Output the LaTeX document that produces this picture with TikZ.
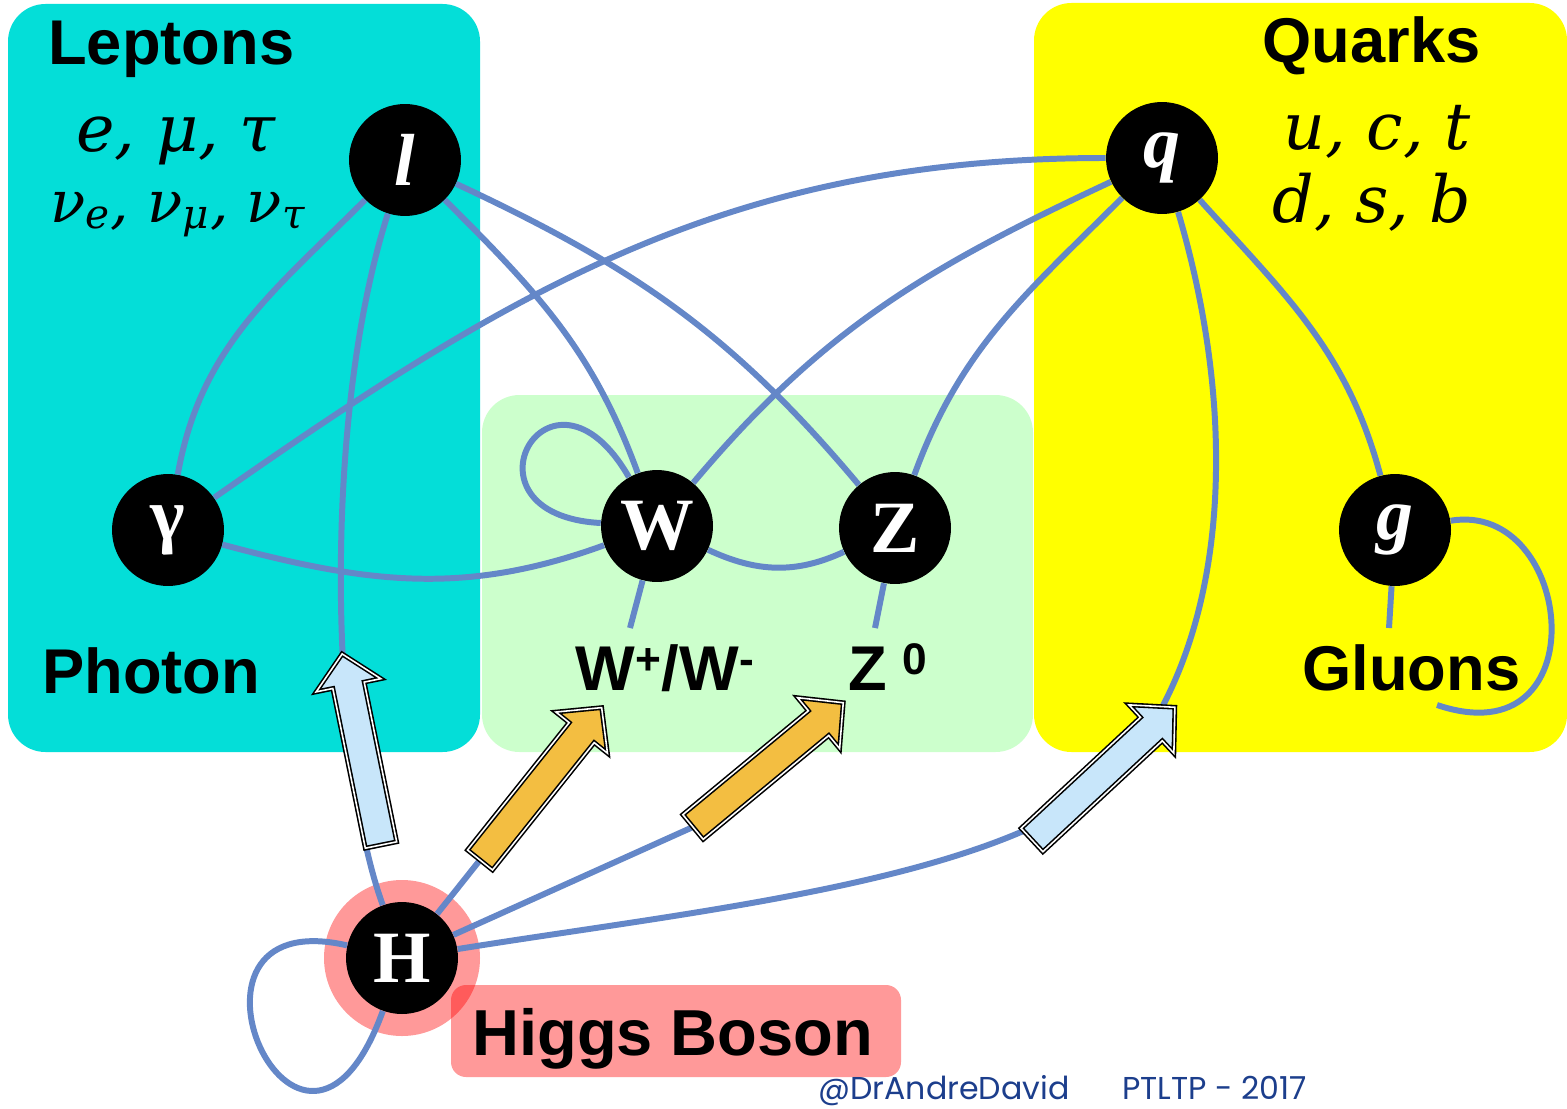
\documentclass[tikz,border=0pt]{standalone}
\usepackage{fontspec}
\setmainfont{Liberation Sans}
\newfontfamily\symfont{DejaVu Serif}
\newfontfamily\glyphfont{Liberation Serif}
\newfontfamily\footfont{Poppins}
\definecolor{leptonC}{RGB}{4,222,216}
\definecolor{bosonC}{RGB}{204,255,204}
\definecolor{quarkC}{RGB}{255,255,0}
\definecolor{linkC}{RGB}{100,135,200}
\definecolor{higgsC}{RGB}{255,153,153}
\definecolor{arrowB}{RGB}{200,230,250}
\definecolor{arrowO}{RGB}{243,190,65}
\definecolor{footC}{RGB}{28,62,140}
\tikzset{
	dotP/.style={
		circle, fill=black, text=white, minimum size=\dotD, inner sep=0pt,
		font={\glyphfont\fontsize{42}{42}\selectfont\bfseries}
	},
	lineP/.style={draw=linkC, line width=3.4pt},
	famBox/.style={rounded corners=0.75cm},
	labA/.style={anchor=base west, inner sep=0pt, font={\fontsize{36}{40}\selectfont\bfseries}},
	symA/.style={anchor=base, inner sep=0pt, font={\symfont\itshape\fontsize{37}{40}\selectfont}},
	footA/.style={anchor=base west, inner sep=0pt, text=footC, font={\footfont\fontsize{18}{20}\selectfont}},
	pics/decay/.style={code={
		\filldraw[fill=#1, draw=black, line width=0.9pt, double=white, double distance=0.9pt]
		(0,-16) -- (163,-16) -- (163,-33) -- (195,0) -- (163,33) -- (163,16) -- (0,16) -- cycle;
	}},
}
\def\dotD{2.24cm}

\begin{document}
\begin{tikzpicture}[x=0.02cm, y=0.02cm]
\useasboundingbox (0,0) rectangle (1567,-1108);
\fill[leptonC, famBox] (8,-4) rectangle (480,-752);
\fill[bosonC, famBox] (482,-395) rectangle (1033,-752);
\fill[quarkC, famBox] (1034,-3) rectangle (1567,-752);
\fill[higgsC] (402,-958) circle[radius=78];
\fill[red, opacity=0.4, rounded corners=0.3cm] (451,-985) rectangle (901,-1077);

\node[dotP] (l) at (405,-160) {\itshape l};
\node[dotP] (q) at (1162,-158) {\itshape q};
\node[dotP] (gam) at (168,-530) {γ};
\node[dotP] (W) at (657,-526) {W};
\node[dotP] (Z) at (895,-528) {Z};
\node[dotP] (g) at (1395,-530) {\itshape g};
\node[dotP] (H) at (402,-958) {H};
\coordinate (wend) at (630,-628);
\coordinate (zend) at (875,-628);
\coordinate (gend) at (1389,-628);
\coordinate (gtail) at (1437,-705);
\coordinate (wtail) at (480,-860);
\coordinate (ztail) at (693,-827);

\draw[lineP] (l) to[out=-135, in=80] (gam);
\draw[lineP] (l) .. controls (322,-420) and (330,-760) .. (H);
\draw[lineP] (l) to[out=-45, in=110] (W);
\draw[lineP] (l) to[out=-25, in=130] (Z);
\draw[lineP] (q) to[out=180, in=35] (gam);
\draw[lineP] (q) to[out=205, in=50] (W);
\draw[lineP] (q) to[out=225, in=70] (Z);
\draw[lineP] (q) to[out=-48, in=105] (g);
\draw[lineP] (q) .. controls (1240,-420) and (1230,-640) .. (1120,-770)
	.. controls (1010,-880) and (700,-910) .. (H);
\draw[lineP] (gam) to[out=-15, in=200] (W);
\draw[lineP] (W) to[out=-25, in=205] (Z);
\draw[lineP] (W) .. controls (550,-340) and (450,-515) .. (W);
\draw[lineP] (W) -- (wend);
\draw[lineP] (Z) -- (zend);
\draw[lineP] (g) -- (gend);
\draw[lineP] (g) .. controls (1575,-500) and (1600,-760) .. (gtail);
\draw[lineP] (H) .. controls (150,-900) and (300,-1240) .. (H);
\draw[lineP] (H) -- (wtail);
\draw[lineP] (H) -- (ztail);

\pic[rotate=101.5] at (381,-845) {decay=arrowB};
\pic[rotate=51.4] at (wtail) {decay=arrowO};
\pic[rotate=39.6] at (ztail) {decay=arrowO};
\pic[rotate=42.9] at (1032,-840) {decay=arrowB};

\node[labA] (lepT) at (48,-65) {Leptons};
\node[labA] (quaT) at (1262,-63) {Quarks};
\node[labA] (phoT) at (42,-693) {Photon};
\node[labA] (gluT) at (1302,-690) {Gluons};
\node[labA] (wT) at (575,-690) {W\textsuperscript{+}/W\textsuperscript{-}};
\node[labA] (zT) at (848,-690) {Z\hspace{0.25em}\textsuperscript{0}};
\node[labA, font={\fontsize{37}{40}\selectfont\bfseries}] (higT) at (472,-1055) {Higgs Boson};
\node[symA] (lepS1) at (176,-152) {e, μ, τ};
\node[symA, font={\symfont\itshape\fontsize{33}{40}\selectfont}] (lepS2) at (178,-222) {ν\textsubscript{e}, ν\textsubscript{μ}, ν\textsubscript{τ}};
\node[symA] (quaS1) at (1377,-150) {u, c, t};
\node[symA] (quaS2) at (1372,-222) {d, s, b};
\node[footA] (drT) at (818,-1099) {@DrAndreDavid};
\node[footA] (ptT) at (1122,-1099) {PTLTP - 2017};
\end{tikzpicture}
\end{document}
